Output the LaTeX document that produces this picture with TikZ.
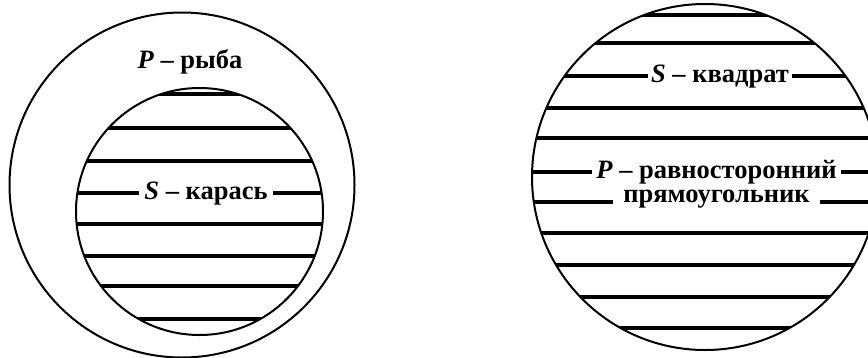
\documentclass[tikz,border=0pt]{standalone}
\usepackage{fontspec}
\setmainfont{Liberation Serif}
\begin{document}
\begin{tikzpicture}[x=1pt,y=-1pt,
  ring/.style={circle,draw,line width=2pt,inner sep=0pt},
  hatch/.style={line width=3.2pt},
  lbl/.style={anchor=base,inner ysep=0pt,inner xsep=4pt,fill=white,
    font=\fontsize{26.5}{28}\selectfont\bfseries}]
\useasboundingbox (0,0) rectangle (868,357);
\clip (0,0) rectangle (868,357);
% left diagram
\node[ring,minimum size=345pt] (outer) at (182,185) {};
\begin{scope}
  \clip (199.5,211.5) circle (123.5pt);
  \foreach \y in {94,128,161,193,224,256,286,319}
    \draw[hatch] (60,\y) -- (340,\y);
\end{scope}
\node[ring,minimum size=247pt] (inner) at (199.5,211.5) {};
\node[lbl] (p1) at (190,68) {\textit{P} – рыба};
\node[lbl,inner xsep=5pt] (s1) at (206,199) {\textit{S} – карась};
% right diagram
\begin{scope}
  \clip (705,177) circle (173pt);
  \foreach \y in {15,43,76,108,138,172,202,233,265,297,328}
    \draw[hatch] (520,\y) -- (890,\y);
\end{scope}
\node[ring,minimum size=346pt] (right) at (705,177) {};
\node[lbl,inner xsep=3pt] (s2) at (720,82) {\textit{S} – квадрат};
\node[lbl] (p2) at (716.5,178) {\textit{P} – равносторонний};
\node[lbl,inner xsep=10pt] (p2b) at (716.5,202) {прямоугольник};
\end{tikzpicture}
\end{document}
